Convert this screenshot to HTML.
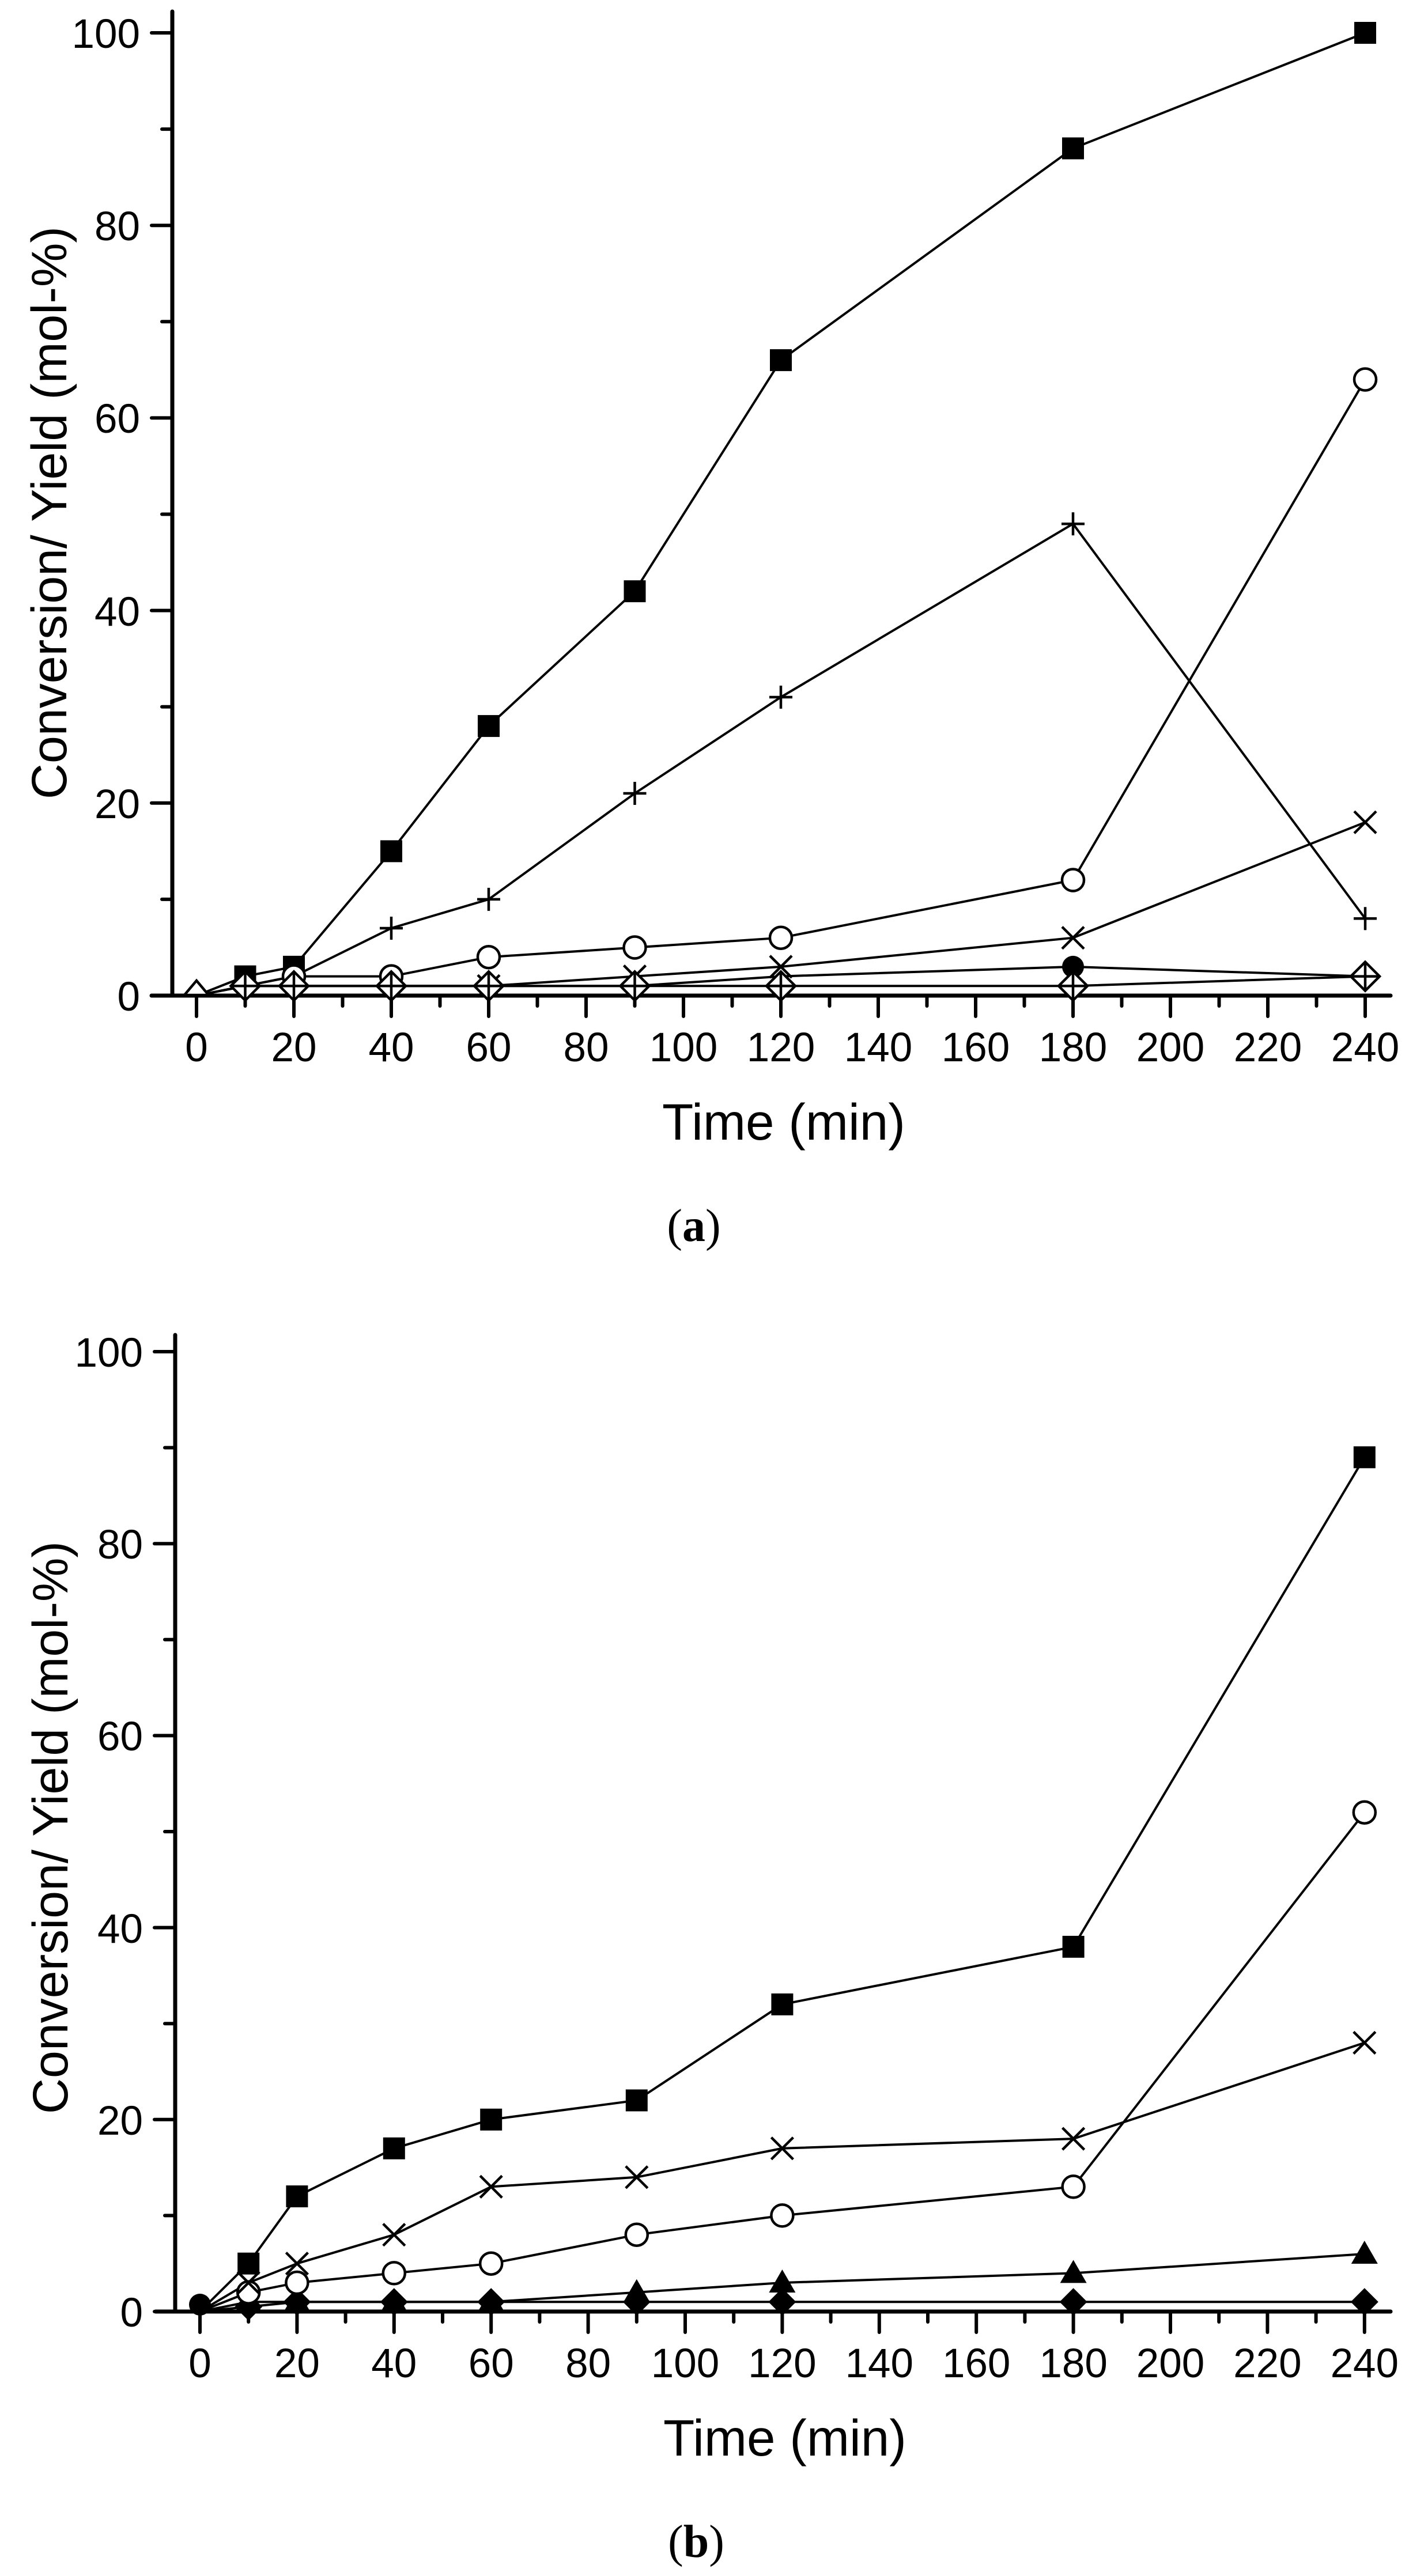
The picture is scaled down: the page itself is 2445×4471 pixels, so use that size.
<!DOCTYPE html>
<html><head><meta charset="utf-8"><style>html,body{margin:0;padding:0;background:#fff}svg{display:block}</style></head>
<body>
<svg width="2445" height="4471" viewBox="0 0 2445 4471" xmlns="http://www.w3.org/2000/svg" font-family="'Liberation Sans', Arial, sans-serif">
<defs>
<rect id="sq" x="-19" y="-19" width="38" height="38" fill="#000"/>
<circle id="oc" r="19" fill="#fff" stroke="#000" stroke-width="4.5"/>
<circle id="fc" r="19" fill="#000"/>
<g id="pl" stroke="#000" stroke-width="4.5"><line x1="-20" y1="0" x2="20" y2="0"/><line x1="0" y1="-20" x2="0" y2="20"/></g>
<g id="xx" stroke="#000" stroke-width="4.5"><line x1="-19" y1="-19" x2="19" y2="19"/><line x1="-19" y1="19" x2="19" y2="-19"/></g>
<g id="dc" stroke="#000" stroke-width="4.5"><polygon points="0,-25 25,0 0,25 -25,0" fill="#fff"/><line x1="-25" y1="0" x2="25" y2="0"/><line x1="0" y1="-25" x2="0" y2="25"/></g>
<polygon id="tr" points="0,-23 23,17 -23,17" fill="#000"/>
<polygon id="fd" points="0,-24 24,0 0,24 -24,0" fill="#000"/>
</defs>

<!-- ================= PANEL A ================= -->
<g stroke="#000" stroke-linecap="round">
<line x1="299" y1="20" x2="299" y2="1728" stroke-width="7"/>
<line x1="263" y1="1728" x2="2413" y2="1728" stroke-width="7"/>
<g stroke-width="6">
<line x1="263" y1="1728" x2="299" y2="1728"/><line x1="263" y1="1393.8" x2="299" y2="1393.8"/><line x1="263" y1="1059.6" x2="299" y2="1059.6"/><line x1="263" y1="725.4" x2="299" y2="725.4"/><line x1="263" y1="391.2" x2="299" y2="391.2"/><line x1="263" y1="57" x2="299" y2="57"/>
<line x1="281" y1="1560.9" x2="299" y2="1560.9"/><line x1="281" y1="1226.7" x2="299" y2="1226.7"/><line x1="281" y1="892.5" x2="299" y2="892.5"/><line x1="281" y1="558.3" x2="299" y2="558.3"/><line x1="281" y1="224.1" x2="299" y2="224.1"/>
<line x1="341" y1="1728" x2="341" y2="1764"/><line x1="510" y1="1728" x2="510" y2="1764"/><line x1="679" y1="1728" x2="679" y2="1764"/><line x1="848" y1="1728" x2="848" y2="1764"/><line x1="1017" y1="1728" x2="1017" y2="1764"/><line x1="1186" y1="1728" x2="1186" y2="1764"/><line x1="1355" y1="1728" x2="1355" y2="1764"/><line x1="1524" y1="1728" x2="1524" y2="1764"/><line x1="1693" y1="1728" x2="1693" y2="1764"/><line x1="1862" y1="1728" x2="1862" y2="1764"/><line x1="2031" y1="1728" x2="2031" y2="1764"/><line x1="2200" y1="1728" x2="2200" y2="1764"/><line x1="2369" y1="1728" x2="2369" y2="1764"/>
<line x1="425.5" y1="1728" x2="425.5" y2="1746"/><line x1="594.5" y1="1728" x2="594.5" y2="1746"/><line x1="763.5" y1="1728" x2="763.5" y2="1746"/><line x1="932.5" y1="1728" x2="932.5" y2="1746"/><line x1="1101.5" y1="1728" x2="1101.5" y2="1746"/><line x1="1270.5" y1="1728" x2="1270.5" y2="1746"/><line x1="1439.5" y1="1728" x2="1439.5" y2="1746"/><line x1="1608.5" y1="1728" x2="1608.5" y2="1746"/><line x1="1777.5" y1="1728" x2="1777.5" y2="1746"/><line x1="1946.5" y1="1728" x2="1946.5" y2="1746"/><line x1="2115.5" y1="1728" x2="2115.5" y2="1746"/><line x1="2284.5" y1="1728" x2="2284.5" y2="1746"/>
</g></g>
<g font-size="71" text-anchor="end">
<text x="243" y="1754">0</text><text x="243" y="1420">20</text><text x="243" y="1086">40</text><text x="243" y="751">60</text><text x="243" y="417">80</text><text x="243" y="83">100</text>
</g>
<g font-size="71" text-anchor="middle">
<text x="341" y="1842">0</text><text x="510" y="1842">20</text><text x="679" y="1842">40</text><text x="848" y="1842">60</text><text x="1017" y="1842">80</text><text x="1186" y="1842">100</text><text x="1355" y="1842">120</text><text x="1524" y="1842">140</text><text x="1693" y="1842">160</text><text x="1862" y="1842">180</text><text x="2031" y="1842">200</text><text x="2200" y="1842">220</text><text x="2369" y="1842">240</text>
</g>
<text x="1360" y="1978" font-size="89" text-anchor="middle">Time (min)</text>
<text transform="translate(86,890) rotate(-90)" font-size="86" text-anchor="middle" dominant-baseline="central">Conversion/ Yield (mol-%)</text>
<text x="1204" y="2154" font-size="80" text-anchor="middle" font-family="'Liberation Serif', serif">(<tspan font-weight="bold">a</tspan>)</text>

<g fill="none" stroke="#000" stroke-width="4">
<polyline points="341,1728 425.5,1694.6 510,1677.9 679,1477.4 848,1260.1 1101.5,1026.2 1355,625.1 1862,257.5 2369,57"/>
<polyline points="341,1728 425.5,1711.3 510,1694.6 679,1611 848,1560.9 1101.5,1377 1355,1210 1862,909.2 2369,1594.3"/>
<polyline points="341,1728 425.5,1711.3 510,1694.6 679,1694.6 848,1661.2 1101.5,1644.5 1355,1627.7 1862,1527.5 2369,658.6"/>
<polyline points="341,1728 425.5,1711.3 510,1711.3 679,1711.3 848,1711.3 1101.5,1694.6 1355,1677.9 1862,1627.7 2369,1427.2"/>
<polyline points="341,1728 425.5,1711.3 510,1711.3 679,1711.3 848,1711.3 1101.5,1711.3 1355,1694.6 1862,1677.9 2369,1694.6"/>
<polyline points="341,1728 425.5,1711.3 510,1711.3 679,1711.3 848,1711.3 1101.5,1711.3 1355,1711.3 1862,1711.3 2369,1694.6"/>
</g>
<g>
<use href="#sq" x="425.5" y="1694.6"/><use href="#sq" x="510" y="1677.9"/><use href="#sq" x="679" y="1477.4"/><use href="#sq" x="848" y="1260.1"/><use href="#sq" x="1101.5" y="1026.2"/><use href="#sq" x="1355" y="625.1"/><use href="#sq" x="1862" y="257.5"/><use href="#sq" x="2369" y="57"/>
<use href="#fc" x="1862" y="1677.9"/>
<use href="#oc" x="510" y="1694.6"/><use href="#oc" x="679" y="1694.6"/><use href="#oc" x="848" y="1661.2"/><use href="#oc" x="1101.5" y="1644.5"/><use href="#oc" x="1355" y="1627.7"/><use href="#oc" x="1862" y="1527.5"/><use href="#oc" x="2369" y="658.6"/>
<use href="#xx" x="848" y="1711.3"/><use href="#xx" x="1101.5" y="1694.6"/><use href="#xx" x="1355" y="1677.9"/><use href="#xx" x="1862" y="1627.7"/><use href="#xx" x="2369" y="1427.2"/>
<use href="#pl" x="679" y="1611"/><use href="#pl" x="848" y="1560.9"/><use href="#pl" x="1101.5" y="1377"/><use href="#pl" x="1355" y="1210"/><use href="#pl" x="1862" y="909.2"/><use href="#pl" x="2369" y="1594.3"/>
<use href="#dc" x="425.5" y="1711.3"/><use href="#dc" x="510" y="1711.3"/><use href="#dc" x="679" y="1711.3"/><use href="#dc" x="848" y="1711.3"/><use href="#dc" x="1101.5" y="1711.3"/><use href="#dc" x="1355" y="1711.3"/><use href="#dc" x="1862" y="1711.3"/><use href="#dc" x="2369" y="1694.6"/>
<polygon points="341,1702 362,1727 320,1727" fill="#fff" stroke="#000" stroke-width="4.5"/>
</g>

<!-- ================= PANEL B ================= -->
<g stroke="#000" stroke-linecap="round">
<line x1="304" y1="2317" x2="304" y2="4012" stroke-width="7"/>
<line x1="270" y1="4012" x2="2413" y2="4012" stroke-width="7"/>
<g stroke-width="6">
<line x1="268" y1="4012" x2="304" y2="4012"/><line x1="268" y1="3678.8" x2="304" y2="3678.8"/><line x1="268" y1="3345.6" x2="304" y2="3345.6"/><line x1="268" y1="3012.4" x2="304" y2="3012.4"/><line x1="268" y1="2679.2" x2="304" y2="2679.2"/><line x1="268" y1="2346" x2="304" y2="2346"/>
<line x1="286" y1="3845.4" x2="304" y2="3845.4"/><line x1="286" y1="3512.2" x2="304" y2="3512.2"/><line x1="286" y1="3179" x2="304" y2="3179"/><line x1="286" y1="2845.8" x2="304" y2="2845.8"/><line x1="286" y1="2512.6" x2="304" y2="2512.6"/>
<line x1="347" y1="4012" x2="347" y2="4048"/><line x1="515.4" y1="4012" x2="515.4" y2="4048"/><line x1="683.8" y1="4012" x2="683.8" y2="4048"/><line x1="852.2" y1="4012" x2="852.2" y2="4048"/><line x1="1020.6" y1="4012" x2="1020.6" y2="4048"/><line x1="1189" y1="4012" x2="1189" y2="4048"/><line x1="1357.4" y1="4012" x2="1357.4" y2="4048"/><line x1="1525.8" y1="4012" x2="1525.8" y2="4048"/><line x1="1694.2" y1="4012" x2="1694.2" y2="4048"/><line x1="1862.6" y1="4012" x2="1862.6" y2="4048"/><line x1="2031" y1="4012" x2="2031" y2="4048"/><line x1="2199.4" y1="4012" x2="2199.4" y2="4048"/><line x1="2367.8" y1="4012" x2="2367.8" y2="4048"/>
<line x1="431.2" y1="4012" x2="431.2" y2="4030"/><line x1="599.6" y1="4012" x2="599.6" y2="4030"/><line x1="768" y1="4012" x2="768" y2="4030"/><line x1="936.4" y1="4012" x2="936.4" y2="4030"/><line x1="1104.8" y1="4012" x2="1104.8" y2="4030"/><line x1="1273.2" y1="4012" x2="1273.2" y2="4030"/><line x1="1441.6" y1="4012" x2="1441.6" y2="4030"/><line x1="1610" y1="4012" x2="1610" y2="4030"/><line x1="1778.4" y1="4012" x2="1778.4" y2="4030"/><line x1="1946.8" y1="4012" x2="1946.8" y2="4030"/><line x1="2115.2" y1="4012" x2="2115.2" y2="4030"/><line x1="2283.6" y1="4012" x2="2283.6" y2="4030"/>
</g></g>
<g font-size="71" text-anchor="end">
<text x="248" y="4038">0</text><text x="248" y="3705">20</text><text x="248" y="3372">40</text><text x="248" y="3038">60</text><text x="248" y="2705">80</text><text x="248" y="2372">100</text>
</g>
<g font-size="71" text-anchor="middle">
<text x="347" y="4126">0</text><text x="515.4" y="4126">20</text><text x="683.8" y="4126">40</text><text x="852.2" y="4126">60</text><text x="1020.6" y="4126">80</text><text x="1189" y="4126">100</text><text x="1357.4" y="4126">120</text><text x="1525.8" y="4126">140</text><text x="1694.2" y="4126">160</text><text x="1862.6" y="4126">180</text><text x="2031" y="4126">200</text><text x="2199.4" y="4126">220</text><text x="2367.8" y="4126">240</text>
</g>
<text x="1362" y="4262" font-size="89" text-anchor="middle">Time (min)</text>
<text transform="translate(88,3172) rotate(-90)" font-size="86" text-anchor="middle" dominant-baseline="central">Conversion/ Yield (mol-%)</text>
<text x="1208" y="4438" font-size="80" text-anchor="middle" font-family="'Liberation Serif', serif">(<tspan font-weight="bold">b</tspan>)</text>

<g fill="none" stroke="#000" stroke-width="4">
<polyline points="347,4012 431.2,3928.7 515.4,3812.1 683.8,3728.8 852.2,3678.8 1104.8,3645.5 1357.4,3478.9 1862.6,3378.9 2367.8,2529.3"/>
<polyline points="347,4012 431.2,3962 515.4,3928.7 683.8,3878.7 852.2,3795.4 1104.8,3778.8 1357.4,3728.8 1862.6,3712.1 2367.8,3545.5"/>
<polyline points="347,4012 431.2,3978.7 515.4,3962 683.8,3945.4 852.2,3928.7 1104.8,3878.7 1357.4,3845.4 1862.6,3795.4 2367.8,3145.7"/>
<polyline points="347,4012 431.2,3995.3 515.4,3995.3 683.8,3995.3 852.2,3995.3 1104.8,3978.7 1357.4,3962 1862.6,3945.4 2367.8,3912"/>
<polyline points="347,4012 431.2,4003.7 515.4,3995.3 683.8,3995.3 852.2,3995.3 1104.8,3995.3 1357.4,3995.3 1862.6,3995.3 2367.8,3995.3"/>
</g>
<g>
<use href="#fc" x="347" y="4000"/>
<use href="#fd" x="431.2" y="4003.7"/><use href="#fd" x="515.4" y="3995.3"/><use href="#fd" x="683.8" y="3995.3"/><use href="#fd" x="852.2" y="3995.3"/><use href="#fd" x="1104.8" y="3995.3"/><use href="#fd" x="1357.4" y="3995.3"/><use href="#fd" x="1862.6" y="3995.3"/><use href="#fd" x="2367.8" y="3995.3"/>
<use href="#tr" x="431.2" y="3995.3"/><use href="#tr" x="515.4" y="3995.3"/><use href="#tr" x="683.8" y="3995.3"/><use href="#tr" x="852.2" y="3995.3"/><use href="#tr" x="1104.8" y="3978.7"/><use href="#tr" x="1357.4" y="3962"/><use href="#tr" x="1862.6" y="3945.4"/><use href="#tr" x="2367.8" y="3912"/>
<use href="#oc" x="431.2" y="3978.7"/><use href="#oc" x="515.4" y="3962"/><use href="#oc" x="683.8" y="3945.4"/><use href="#oc" x="852.2" y="3928.7"/><use href="#oc" x="1104.8" y="3878.7"/><use href="#oc" x="1357.4" y="3845.4"/><use href="#oc" x="1862.6" y="3795.4"/><use href="#oc" x="2367.8" y="3145.7"/>
<use href="#xx" x="431.2" y="3962"/><use href="#xx" x="515.4" y="3928.7"/><use href="#xx" x="683.8" y="3878.7"/><use href="#xx" x="852.2" y="3795.4"/><use href="#xx" x="1104.8" y="3778.8"/><use href="#xx" x="1357.4" y="3728.8"/><use href="#xx" x="1862.6" y="3712.1"/><use href="#xx" x="2367.8" y="3545.5"/>
<use href="#sq" x="431.2" y="3928.7"/><use href="#sq" x="515.4" y="3812.1"/><use href="#sq" x="683.8" y="3728.8"/><use href="#sq" x="852.2" y="3678.8"/><use href="#sq" x="1104.8" y="3645.5"/><use href="#sq" x="1357.4" y="3478.9"/><use href="#sq" x="1862.6" y="3378.9"/><use href="#sq" x="2367.8" y="2529.3"/>
</g>
</svg>
</body></html>
